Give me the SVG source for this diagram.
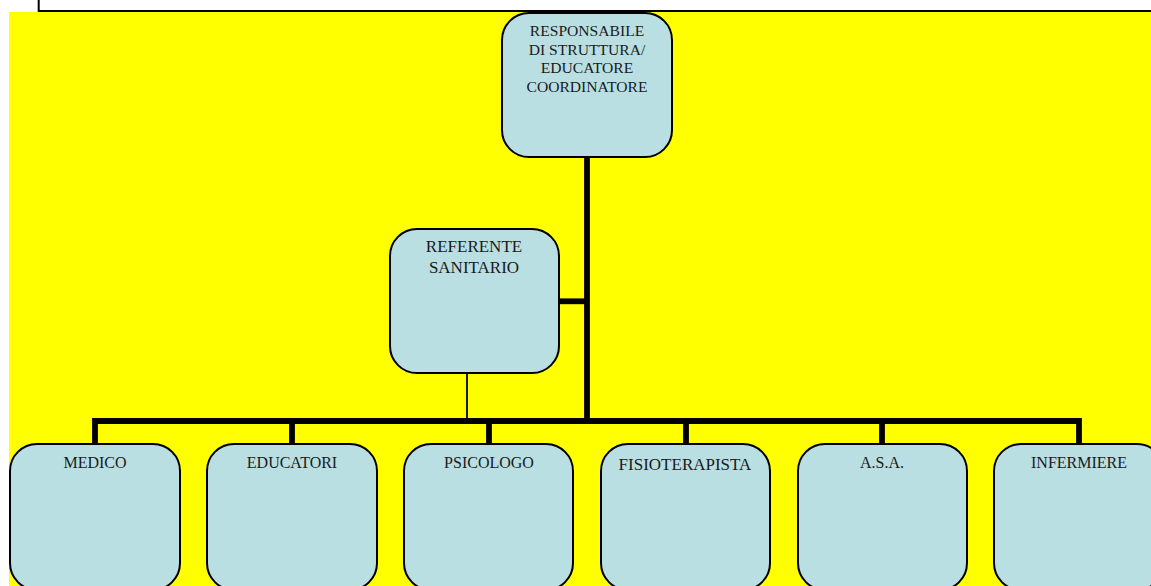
<svg xmlns="http://www.w3.org/2000/svg" width="1151" height="586" viewBox="0 0 1151 586">
<style>
.node rect{fill:#B9DFE3;stroke:#000;stroke-width:2}
.node text{font-family:"Liberation Serif",serif;fill:#1a1a1a;text-anchor:middle}
.thick{stroke:#000;stroke-width:5.8;fill:none}
.thin{stroke:#000;stroke-width:1.8;fill:none}
</style>
<rect x="0" y="0" width="1151" height="586" fill="#fff"/>
<rect x="9" y="12" width="1142" height="574" fill="#ffff00"/>
<path d="M38.7 0 V11 H1151" stroke="#000" stroke-width="2" fill="none"/>
<g id="connectors">
<path class="thick" d="M587 157 V421"/>
<path class="thick" d="M559 301.3 H587"/>
<path class="thin" d="M467 373 V421"/>
<path class="thick" d="M95 444 V421 H1079 V444"/>
<path class="thick" d="M292 421 V444 M489 421 V444 M686 421 V444 M882 421 V444"/>
</g>
<g id="n_resp" class="node">
<rect x="502" y="13" width="170" height="144" rx="27"/>
<text font-size="15.6"><tspan x="587" y="36">RESPONSABILE</tspan><tspan x="587" y="54.5">DI STRUTTURA/</tspan><tspan x="587" y="73">EDUCATORE</tspan><tspan x="587" y="91.5">COORDINATORE</tspan></text>
</g>
<g id="n_ref" class="node">
<rect x="390" y="229" width="169" height="144" rx="27"/>
<text font-size="17"><tspan x="474" y="252.3">REFERENTE</tspan><tspan x="474" y="273.3">SANITARIO</tspan></text>
</g>
<g id="n_medico" class="node">
<rect x="10" y="444" width="170" height="146" rx="27"/>
<text x="95" y="468.3" font-size="16">MEDICO</text>
</g>
<g id="n_educatori" class="node">
<rect x="207" y="444" width="170" height="146" rx="27"/>
<text x="292" y="468.3" font-size="16">EDUCATORI</text>
</g>
<g id="n_psicologo" class="node">
<rect x="404" y="444" width="169" height="146" rx="27"/>
<text x="489" y="468.3" font-size="16">PSICOLOGO</text>
</g>
<g id="n_fisio" class="node">
<rect x="601" y="444" width="169" height="146" rx="27"/>
<text x="685" y="470" font-size="17">FISIOTERAPISTA</text>
</g>
<g id="n_asa" class="node">
<rect x="798" y="444" width="169" height="146" rx="27"/>
<text x="882" y="468.3" font-size="16">A.S.A.</text>
</g>
<g id="n_infermiere" class="node">
<rect x="994" y="444" width="170" height="146" rx="27"/>
<text x="1079" y="468.3" font-size="16">INFERMIERE</text>
</g>
</svg>
